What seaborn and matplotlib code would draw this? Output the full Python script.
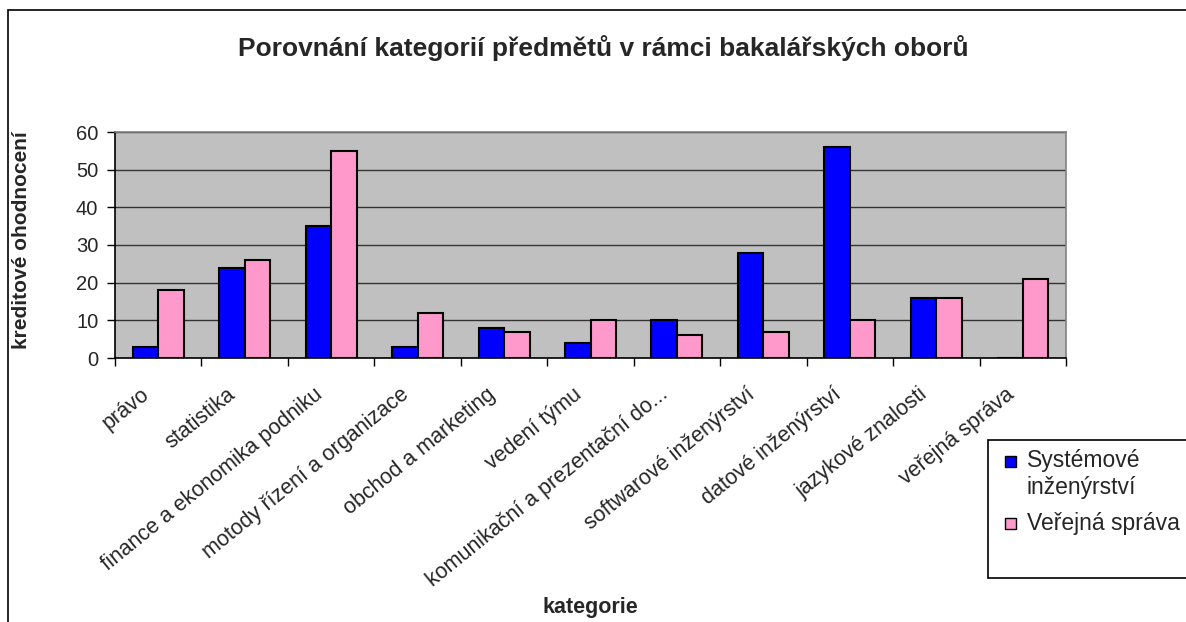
import matplotlib
matplotlib.use("Agg")
import matplotlib.pyplot as plt
import matplotlib.transforms as mtrans
import seaborn as sns
import pandas as pd
from matplotlib.patches import Rectangle
from matplotlib.ticker import FixedLocator

categories = ["právo", "statistika", "finance a ekonomika podniku",
              "motody řízení a organizace", "obchod a marketing", "vedení týmu",
              "komunikační a prezentační do...", "softwarové inženýrství",
              "datové inženýrství", "jazykové znalosti", "veřejná správa"]
series_names = ["Systémové\ninženýrství", "Veřejná správa"]
systemove = [3, 24, 35, 3, 8, 4, 10, 28, 56, 16, 0]
verejna = [18, 26, 55, 12, 7, 10, 6, 7, 10, 16, 21]
y_ticks = [0, 10, 20, 30, 40, 50, 60]

colors = ["#0000FF", "#FF99CC"]

df = pd.DataFrame({
    "kategorie": categories * 2,
    "kredity": systemove + verejna,
    "obor": [series_names[0]] * len(categories) + [series_names[1]] * len(categories),
})

sns.set_style("white")
plt.rcParams["font.family"] = ["Liberation Sans", "DejaVu Sans"]

W, H = 1186, 622
L, R, T, B = 115, 1066, 132, 358
fig = plt.figure(figsize=(W / 100, H / 100), dpi=100)
ax = fig.add_axes([L / W, 1 - B / H, (R - L) / W, (B - T) / H])
ax.set_facecolor("#C0C0C0")

sns.barplot(data=df, x="kategorie", y="kredity", hue="obor", order=categories,
            hue_order=series_names, palette=colors, saturation=1, width=0.59,
            edgecolor="black", linewidth=1.5, legend=False, ax=ax, zorder=3)

ax.set_xlim(-0.5, len(categories) - 0.5)
ax.set_ylim(0, 60)
ax.set_yticks(y_ticks)
ax.set_yticklabels([str(v) for v in y_ticks], fontsize=14.5)
ax.yaxis.grid(True, color="#333333", linewidth=1, zorder=0)
ax.set_axisbelow(True)
ax.tick_params(axis="y", direction="out", length=6, width=1, color="black", pad=6, left=True)

# category labels (rotated), anchored just below each category centre
ax.set_xticks(range(len(categories)))
ax.set_xticklabels([])
ax.tick_params(axis="x", which="major", length=0)
offset = mtrans.ScaledTranslation(-18 / 100, -26 / 100, fig.dpi_scale_trans)
for i, cat in enumerate(categories):
    ax.text(i, 0, cat, transform=ax.get_xaxis_transform() + offset,
            rotation=39, rotation_mode="anchor", ha="right", va="top",
            fontsize=15.5, clip_on=False)
ax.xaxis.set_minor_locator(FixedLocator([i - 0.5 for i in range(len(categories) + 1)]))
ax.tick_params(axis="x", which="minor", direction="out", length=6, width=1, color="black", bottom=True)

for s in ["left", "bottom"]:
    ax.spines[s].set_color("black")
    ax.spines[s].set_linewidth(1.2)
for s in ["top", "right"]:
    ax.spines[s].set_color("#808080")
    ax.spines[s].set_linewidth(1.2)

ax.set_xlabel("kategorie", fontsize=15.5, fontweight="bold", va="top")
ax.xaxis.set_label_coords(0.5, -(597 - B) / (B - T))
ax.set_ylabel("kreditové ohodnocení", fontsize=15, fontweight="bold")
ax.yaxis.set_label_coords(-(L - 31) / (R - L), (B - 240) / (B - T))

fig.text(603 / W, 1 - 48 / H, "Porovnání kategorií předmětů v rámci bakalářských oborů",
         fontsize=19, fontweight="bold", ha="center", va="center")

# outer chart border
fig.patches.append(Rectangle((8 / W, -0.1), 1.2, 1.1 - 10 / H, transform=fig.transFigure,
                             fill=False, edgecolor="black", linewidth=1.2))
# legend box
fig.patches.append(Rectangle((988 / W, 1 - 578 / H), 0.2, (578 - 440) / H, transform=fig.transFigure,
                             facecolor="white", edgecolor="black", linewidth=1.2, zorder=5))
legend_rows = [(456, 494), (518, 530)]
for (sq_top, baseline), name, c in zip(legend_rows, series_names, colors):
    fig.patches.append(Rectangle((1005 / W, 1 - (sq_top + 11) / H), 11 / W, 11 / H,
                                 transform=fig.transFigure, facecolor=c,
                                 edgecolor="black", linewidth=1, zorder=6))
    fig.text(1027 / W, 1 - baseline / H, name, fontsize=16.5, ha="left",
             va="baseline", linespacing=1.2, zorder=6)

fig.savefig("out.png", dpi=100)
